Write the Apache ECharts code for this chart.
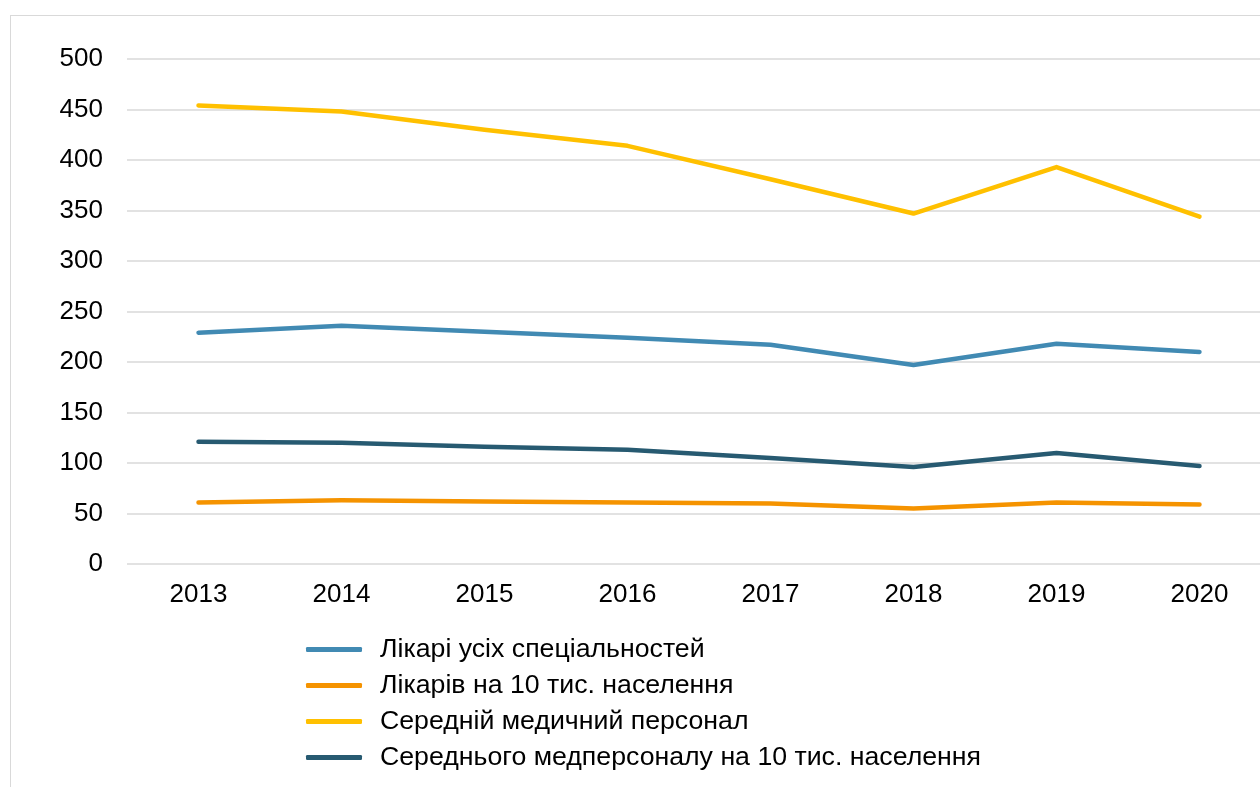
<!DOCTYPE html>
<html>
<head>
<meta charset="utf-8">
<script src="https://cdn.jsdelivr.net/npm/echarts@6/dist/echarts.min.js"></script>
<style>
  html, body { margin: 0; padding: 0; background: #ffffff; overflow: hidden; width: 1260px; height: 787px; }
  /* рамка діаграми, обрізана справа і знизу */
  .frame {
    position: absolute; left: 10px; top: 15px;
    width: 1300px; height: 820px;
    border: 1.5px solid #d9d9d9; box-sizing: border-box; background: #ffffff;
  }
  #chart { width: 100%; height: 100%; }
</style>
</head>
<body>
<div class="frame"><div id="chart"></div></div>
<script>
// дані
const years = ['2013', '2014', '2015', '2016', '2017', '2018', '2019', '2020']
const doctorsAll = [229, 236, 230, 224, 217, 197, 218, 210]
const doctorsPer10k = [61, 63, 62, 61, 60, 55, 61, 59]
const nursesAll = [454, 448, 430, 414, 381, 347, 393, 344]
const nursesPer10k = [121, 120, 116, 113, 105, 96, 110, 97]
const seriesNames = [
  'Лікарі усіх спеціальностей',
  'Лікарів на 10 тис. населення',
  'Середній медичний персонал',
  'Середнього медперсоналу на 10 тис. населення'
]
const colors = ['#418AB3', '#F59300', '#FFC000', '#275A71']
const seriesData = [doctorsAll, doctorsPer10k, nursesAll, nursesPer10k]

const font = 'Liberation Sans, Arial, sans-serif'
const myChart = echarts.init(document.getElementById('chart'))

const series = seriesData.map((d, i) => ({
  name: seriesNames[i],
  type: 'line',
  data: d,
  symbol: 'none',
  smooth: false,
  lineStyle: { color: colors[i], width: 4.5, cap: 'round', join: 'round' },
  itemStyle: { color: colors[i] }
}))

const options = {
  animation: false,
  grid: { left: 116, top: 43, width: 1144, height: 505, containLabel: false },
  legend: {
    orient: 'vertical',
    left: 290,
    top: 615,
    icon: 'roundRect',
    itemWidth: 56,
    itemHeight: 5,
    itemGap: 9,
    textStyle: { color: '#000', fontSize: 26.7, fontFamily: font, padding: [0, 0, 0, 13] },
    data: seriesNames
  },
  xAxis: {
    type: 'category',
    data: years,
    boundaryGap: true,
    axisLine: { show: false },
    axisTick: { show: false },
    axisLabel: { color: '#000', fontSize: 26, fontFamily: font, margin: 18 }
  },
  yAxis: {
    type: 'value',
    min: 0,
    max: 500,
    interval: 50,
    axisLine: { show: false },
    axisTick: { show: false },
    axisLabel: { color: '#000', fontSize: 26, fontFamily: font, margin: 24 },
    splitLine: { show: true, lineStyle: { color: '#d9d9d9', width: 1.5 } }
  },
  series: series
}
myChart.setOption(options)
</script>
</body>
</html>
